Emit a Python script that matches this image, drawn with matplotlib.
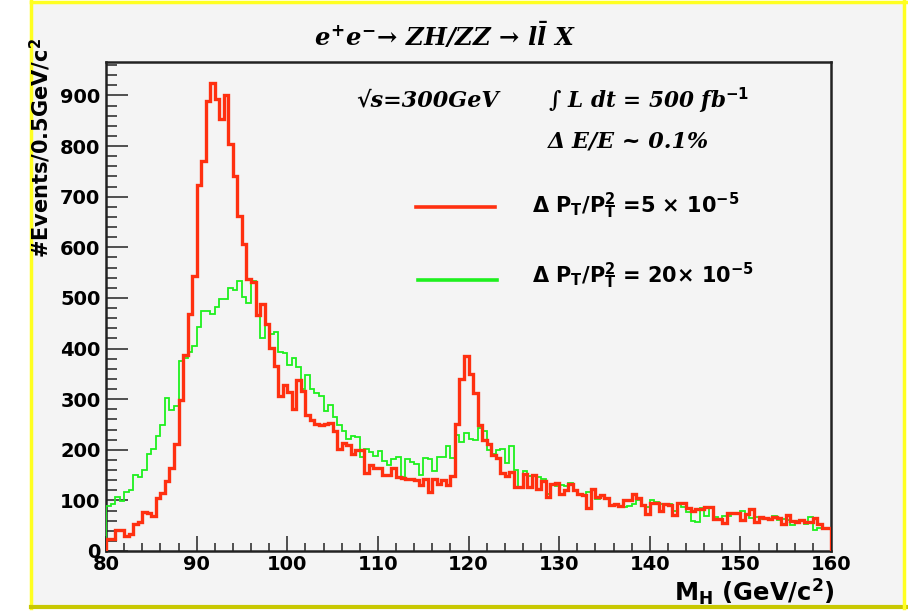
import numpy as np
import matplotlib
matplotlib.use("Agg")
import matplotlib.pyplot as plt
from matplotlib.patches import Rectangle
from matplotlib.lines import Line2D

# ---------------- data ----------------
x_min, x_max, bin_width = 80.0, 160.0, 0.5

red_counts = [
    23, 23, 42, 42, 29, 34, 54, 57, 77, 75,
    70, 105, 115, 138, 164, 212, 299, 387, 468, 544,
    724, 771, 888, 924, 893, 853, 901, 804, 741, 661,
    607, 537, 531, 467, 488, 449, 402, 365, 307, 327,
    314, 281, 337, 317, 268, 259, 251, 248, 251, 253,
    238, 202, 213, 209, 192, 199, 199, 154, 169, 163,
    163, 150, 150, 163, 146, 145, 143, 142, 140, 130,
    143, 116, 143, 132, 140, 130, 149, 250, 340, 386,
    350, 312, 248, 220, 212, 189, 184, 154, 149, 156,
    126, 126, 153, 126, 150, 123, 139, 107, 133, 134,
    113, 120, 132, 120, 113, 110, 84, 123, 107, 110,
    105, 91, 93, 88, 100, 100, 112, 105, 90, 74,
    95, 95, 80, 93, 90, 72, 95, 95, 84, 79,
    82, 82, 87, 87, 64, 64, 55, 75, 75, 75,
    61, 74, 82, 57, 67, 66, 64, 68, 66, 54,
    72, 59, 57, 61, 57, 57, 66, 54, 45, 45,
]

green_counts = [
    89, 92, 107, 99, 116, 120, 151, 146, 161, 191,
    202, 227, 248, 302, 279, 286, 375, 382, 393, 405,
    442, 474, 474, 468, 482, 497, 497, 519, 515, 533,
    502, 490, 533, 467, 421, 446, 428, 432, 394, 391,
    368, 381, 363, 320, 347, 320, 312, 307, 276, 289,
    265, 248, 238, 222, 228, 225, 185, 202, 196, 187,
    198, 178, 169, 182, 185, 146, 182, 176, 172, 150,
    184, 182, 159, 186, 186, 207, 184, 229, 215, 233,
    222, 219, 243, 238, 200, 192, 200, 202, 174, 207,
    161, 126, 158, 149, 149, 146, 143, 113, 130, 128,
    130, 128, 134, 120, 110, 110, 116, 123, 103, 110,
    103, 90, 92, 87, 87, 88, 93, 100, 90, 87,
    100, 97, 93, 90, 93, 80, 93, 87, 77, 60,
    57, 84, 70, 84, 67, 64, 70, 70, 75, 75,
    79, 72, 66, 67, 64, 66, 61, 70, 62, 64,
    61, 51, 59, 62, 54, 68, 41, 45, 45, 45,
]

x_ticks = [80, 90, 100, 110, 120, 130, 140, 150, 160]
y_ticks = [0, 100, 200, 300, 400, 500, 600, 700, 800, 900]

title_text = r"$e^{+}e^{-}$→ ZH/ZZ → $l\bar{l}$ X"
label_red = r"Δ P$_{\mathrm{T}}$/P$_{\mathrm{T}}^{2}$ =5 × 10$^{-5}$"
label_green = r"Δ P$_{\mathrm{T}}$/P$_{\mathrm{T}}^{2}$ = 20× 10$^{-5}$"

# ---------------- style ----------------
plt.rcParams["mathtext.fontset"] = "custom"
plt.rcParams["mathtext.it"] = "DejaVu Serif:italic:bold"
plt.rcParams["mathtext.rm"] = "DejaVu Sans:bold"
plt.rcParams["mathtext.bf"] = "DejaVu Sans:bold"
plt.rcParams["mathtext.fallback"] = "stix"

SANS = ["DejaVu Sans"]
SERIF = ["DejaVu Serif", "DejaVu Sans"]

W, H = 908, 613
fig = plt.figure(figsize=(W / 100, H / 100), dpi=100)
fig.patch.set_facecolor("white")

def fx(px):
    return px / W

def fy(py):
    return 1 - py / H

# canvas background with yellow frame
bg = Rectangle((fx(31), fy(607)), fx(903) - fx(31), fy(2) - fy(607),
               transform=fig.transFigure, facecolor="#f4f4f4",
               edgecolor="none", zorder=-10)
fig.patches.append(bg)
fig.add_artist(Line2D([fx(31), fx(31)], [fy(0), fy(608)], color="#ffff20", lw=2.5, transform=fig.transFigure))
fig.add_artist(Line2D([fx(31), fx(908)], [fy(1.5), fy(1.5)], color="#ffff20", lw=2.5, transform=fig.transFigure))
fig.add_artist(Line2D([fx(31), fx(908)], [fy(607), fy(607)], color="#c8c800", lw=3, transform=fig.transFigure))
fig.add_artist(Line2D([fx(904), fx(904)], [fy(0), fy(608)], color="#ffff20", lw=2.5, transform=fig.transFigure))

ax = fig.add_axes([fx(106), fy(551), fx(831) - fx(106), fy(62) - fy(551)])
ax.set_facecolor("#f4f4f4")

edges = np.arange(x_min, x_max + bin_width / 2, bin_width)
ax.stairs(green_counts, edges, color="#1ef01e", lw=1.3, zorder=3)
ax.stairs(red_counts, edges, color="#ff3010", lw=2.4, zorder=4)

ax.set_xlim(x_min, x_max)
ax.set_ylim(0, 966)

ax.set_xticks(x_ticks)
ax.set_xticks(np.arange(80, 161, 2), minor=True)
ax.set_yticks(y_ticks)
ax.set_yticks(np.arange(0, 961, 20), minor=True)
ax.set_xticklabels([str(v) for v in x_ticks], fontfamily=SANS,
                   fontweight="bold", fontsize=14)
ax.set_yticklabels([str(v) for v in y_ticks], fontfamily=SANS,
                   fontweight="bold", fontsize=14)
ax.tick_params(axis="x", which="major", direction="in", length=11, width=1.1,
               color="#222222", pad=3, top=False)
ax.tick_params(axis="x", which="minor", direction="in", length=5.5, width=1.1,
               color="#222222", top=False)
ax.tick_params(axis="y", which="major", direction="in", length=16, width=1.1,
               color="#222222", pad=4, right=False)
ax.tick_params(axis="y", which="minor", direction="in", length=8, width=1.1,
               color="#222222", right=False)
for s in ax.spines.values():
    s.set_linewidth(1.8)
    s.set_color("#222222")

# axis titles
fig.text(fx(835), fy(592), r"M$_{\mathrm{H}}$ (GeV/c$^{2}$)", ha="right", va="center",
         fontsize=17.5, fontfamily=SANS, fontweight="bold")
fig.text(fx(40), fy(148), r"#Events/0.5GeV/c$^{2}$", ha="center",
         va="center", rotation=90, fontsize=15, fontfamily=SANS, fontweight="bold")

# title and annotations
fig.text(fx(445), fy(36), title_text, ha="center", va="center", fontsize=17.5,
         fontfamily=SERIF, fontstyle="italic", fontweight="bold")
fig.text(fx(356), fy(101), "√s=300GeV", ha="left", va="center",
         fontsize=16, fontfamily=SERIF, fontstyle="italic", fontweight="bold")
fig.text(fx(548), fy(101), r"∫ L dt = 500 fb$^{\mathit{-1}}$", ha="left", va="center",
         fontsize=15.5, fontfamily=SERIF, fontstyle="italic", fontweight="bold")
fig.text(fx(548), fy(141), "Δ E/E ~ 0.1%", ha="left", va="center",
         fontsize=16, fontfamily=SERIF, fontstyle="italic", fontweight="bold")

# legend
fig.add_artist(Line2D([fx(416), fx(495)], [fy(207), fy(207)], color="#ff3010", lw=2.6,
                      transform=fig.transFigure))
fig.add_artist(Line2D([fx(418), fx(497)], [fy(280), fy(280)], color="#1ef01e", lw=2.6,
                      transform=fig.transFigure))
fig.text(fx(532), fy(206), label_red, ha="left", va="center", fontsize=15,
         fontfamily=SANS, fontweight="bold")
fig.text(fx(532), fy(276), label_green, ha="left", va="center", fontsize=15,
         fontfamily=SANS, fontweight="bold")

fig.savefig("out.png", dpi=100, facecolor=fig.get_facecolor())
